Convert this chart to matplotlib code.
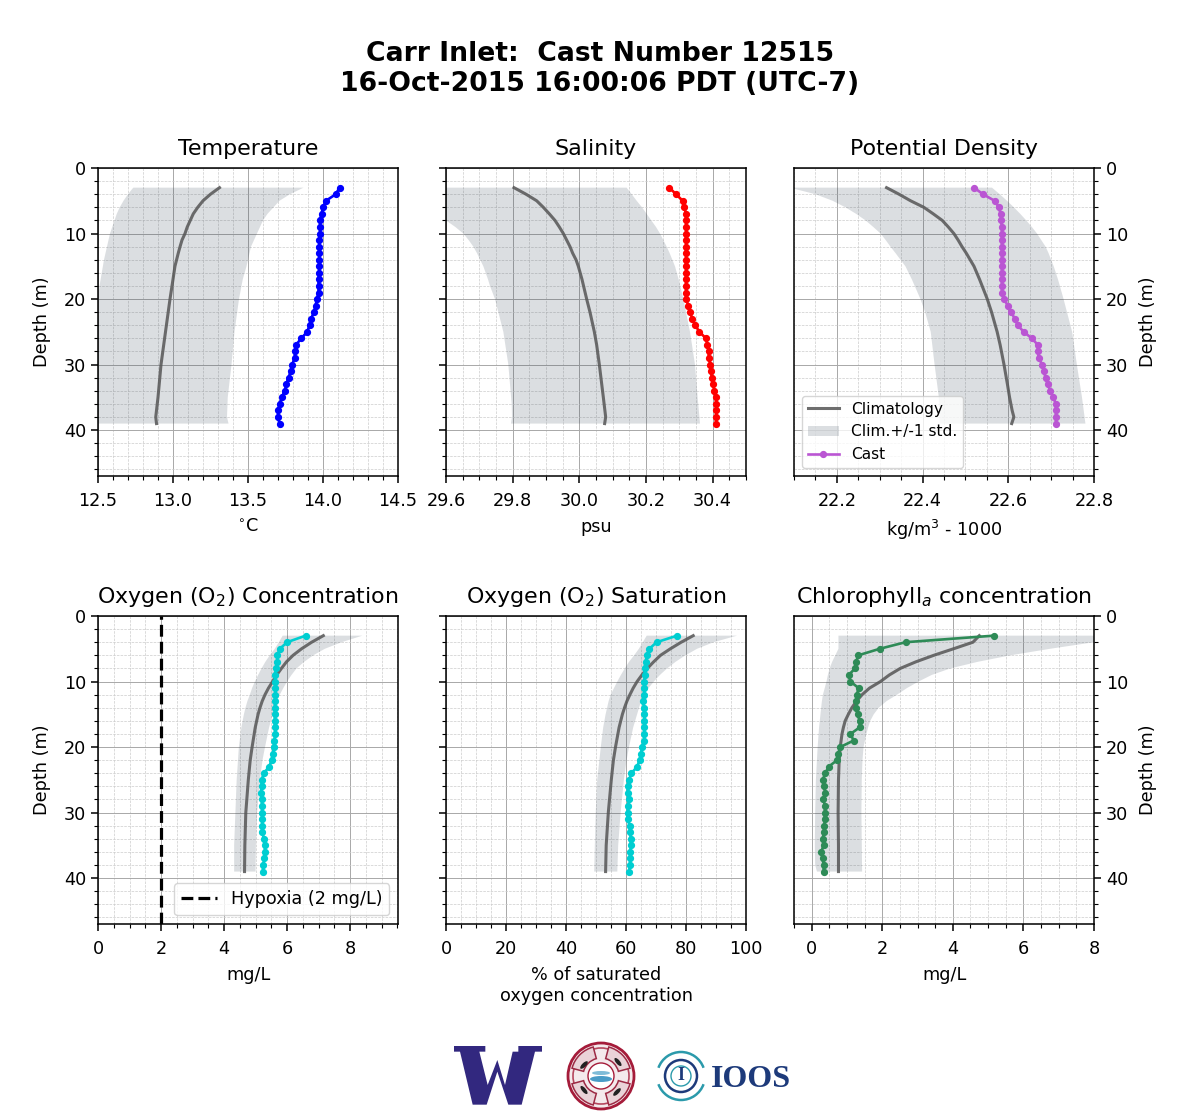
import matplotlib
matplotlib.use("Agg")
import matplotlib.pyplot as plt
from matplotlib.patches import Circle, Arc, Wedge, Ellipse, Polygon
from matplotlib.ticker import MultipleLocator, FormatStrFormatter

W, H = 1200, 1120
suptitle_text = "Carr Inlet:  Cast Number 12515\n16-Oct-2015 16:00:06 PDT (UTC-7)"
titles = ["Temperature", "Salinity", "Potential Density",
          "Oxygen (O$_2$) Concentration", "Oxygen (O$_2$) Saturation", "Chlorophyll$_a$ concentration"]
xlabels = ["$^{\\circ}$C", "psu", "kg/m$^3$ - 1000", "mg/L",
           "% of saturated\noxygen concentration", "mg/L"]
cast_colors = ["#0000ff", "#ff0000", "#ba55d3", "#00ced1", "#00ced1", "#2e8b57"]

cast_depth = list(range(3, 40))
temp_cast = [14.11, 14.085, 14.02, 14.0, 13.99, 13.98, 13.98, 13.98, 13.975, 13.975, 13.975, 13.975, 13.975,
             13.973, 13.97, 13.97, 13.97, 13.96, 13.95, 13.94, 13.92, 13.91, 13.895, 13.855, 13.82, 13.815,
             13.81, 13.795, 13.785, 13.77, 13.755, 13.745, 13.725, 13.71, 13.70, 13.70, 13.71]
sal_cast = [30.27, 30.29, 30.31, 30.315, 30.32, 30.32, 30.32, 30.32, 30.32, 30.32, 30.32, 30.32, 30.32,
            30.32, 30.32, 30.32, 30.32, 30.32, 30.327, 30.332, 30.339, 30.348, 30.36, 30.38, 30.384, 30.388,
            30.388, 30.393, 30.395, 30.397, 30.402, 30.405, 30.409, 30.411, 30.411, 30.41, 30.41]
dens_cast = [22.52, 22.541, 22.568, 22.578, 22.582, 22.583, 22.585, 22.585, 22.585, 22.585, 22.585, 22.585,
             22.585, 22.585, 22.585, 22.585, 22.585, 22.59, 22.599, 22.607, 22.615, 22.622, 22.636, 22.655,
             22.669, 22.669, 22.671, 22.679, 22.683, 22.687, 22.692, 22.698, 22.705, 22.711, 22.711, 22.711, 22.711]
oxc_cast = [6.59, 6.0, 5.77, 5.69, 5.69, 5.64, 5.62, 5.62, 5.63, 5.63, 5.62, 5.61, 5.61, 5.61, 5.62, 5.62,
            5.60, 5.58, 5.55, 5.51, 5.43, 5.26, 5.19, 5.19, 5.17, 5.2, 5.2, 5.21, 5.21, 5.21, 5.22, 5.26, 5.29,
            5.30, 5.28, 5.24, 5.23]
oxs_cast = [77.05, 70.2, 67.8, 66.9, 66.6, 66.2, 66.2, 66.1, 66.1, 66.0, 65.6, 66.0, 66.1, 66.1, 66.1, 66.0,
            66.0, 65.3, 65.0, 64.5, 63.7, 61.8, 61.0, 60.6, 60.6, 61.0, 60.6, 60.6, 60.6, 61.2, 61.3, 61.6,
            61.6, 61.4, 61.4, 61.3, 61.0]
chl_cast = [5.16, 2.66, 1.93, 1.32, 1.26, 1.23, 1.05, 1.1, 1.33, 1.28, 1.26, 1.26, 1.3, 1.36, 1.36, 1.1, 1.19,
            0.81, 0.75, 0.72, 0.48, 0.39, 0.31, 0.36, 0.38, 0.33, 0.38, 0.37, 0.37, 0.36, 0.35, 0.31, 0.34,
            0.27, 0.31, 0.34, 0.34]

temp_mean_z = [3, 4, 5, 6, 7, 8, 9, 10, 11, 12, 13, 15, 17, 20, 25, 30, 35, 38, 39]
temp_mean = [13.31, 13.25, 13.2, 13.165, 13.135, 13.115, 13.095, 13.08, 13.06, 13.047, 13.035, 13.013, 13.0,
             12.98, 12.95, 12.92, 12.9, 12.885, 12.89]
temp_low_z = [3, 4, 5, 6, 7, 8, 9, 10, 12, 14, 16, 18, 20, 25, 30, 35, 39]
temp_low = [12.735, 12.70, 12.67, 12.645, 12.625, 12.61, 12.595, 12.58, 12.56, 12.54, 12.525, 12.51, 12.5,
            12.47, 12.45, 12.43, 12.42]
temp_high_z = [3, 4, 5, 6, 7, 8, 9, 10, 11, 12, 13, 15, 17, 20, 25, 30, 35, 38, 39]
temp_high = [13.87, 13.78, 13.71, 13.67, 13.63, 13.6, 13.58, 13.56, 13.54, 13.52, 13.51, 13.49, 13.465, 13.44,
             13.41, 13.39, 13.365, 13.36, 13.37]

sal_mean_z = [3, 4, 5, 6, 7, 8, 9, 10, 11, 12, 13, 14, 15, 17, 20, 22, 25, 27, 30, 35, 38, 39]
sal_mean = [29.804, 29.84, 29.872, 29.892, 29.91, 29.927, 29.94, 29.952, 29.962, 29.972, 29.98, 29.99, 29.997,
            30.008, 30.022, 30.032, 30.045, 30.052, 30.06, 30.072, 30.079, 30.076]
sal_low_z = [3, 5, 7, 8, 9, 10, 11, 12, 13, 15, 17, 18, 20, 22, 25, 30, 36, 38, 39]
sal_low = [29.54, 29.56, 29.585, 29.6, 29.628, 29.652, 29.668, 29.682, 29.693, 29.712, 29.726, 29.732, 29.747,
           29.757, 29.772, 29.787, 29.797, 29.798, 29.795]
sal_high_z = [3, 4, 5, 6, 7, 8, 9, 10, 11, 12, 13, 15, 17, 20, 22, 25, 30, 35, 39]
sal_high = [30.142, 30.157, 30.172, 30.188, 30.202, 30.216, 30.23, 30.242, 30.252, 30.262, 30.271, 30.287,
            30.298, 30.312, 30.32, 30.332, 30.347, 30.355, 30.362]

dens_mean_z = [3, 4, 5, 6, 7, 8, 9, 10, 11, 12, 13, 15, 17, 20, 22, 25, 27, 30, 33, 35, 37, 38, 39]
dens_mean = [22.316, 22.345, 22.372, 22.403, 22.425, 22.446, 22.46, 22.473, 22.483, 22.492, 22.502, 22.52,
             22.533, 22.551, 22.561, 22.574, 22.581, 22.59, 22.598, 22.603, 22.609, 22.613, 22.608]
dens_low_z = [3, 4, 5, 6, 7, 8, 9, 10, 11, 12, 13, 15, 17, 20, 22, 25, 30, 35, 39]
dens_low = [22.09, 22.15, 22.19, 22.22, 22.245, 22.267, 22.285, 22.302, 22.314, 22.325, 22.337, 22.36, 22.375,
            22.395, 22.406, 22.419, 22.428, 22.438, 22.44]
dens_high_z = [3, 4, 5, 6, 7, 8, 9, 10, 11, 12, 13, 15, 17, 20, 25, 30, 35, 39]
dens_high = [22.562, 22.58, 22.597, 22.613, 22.628, 22.642, 22.655, 22.667, 22.677, 22.687, 22.694, 22.706,
             22.716, 22.729, 22.749, 22.76, 22.772, 22.78]

oxc_mean_z = [3, 4, 5, 6, 7, 8, 9, 10, 11, 12, 13, 14, 15, 17, 20, 22, 25, 30, 35, 39]
oxc_mean = [7.15, 6.78, 6.46, 6.19, 5.98, 5.82, 5.67, 5.54, 5.41, 5.3, 5.21, 5.14, 5.08, 4.99, 4.89, 4.83, 4.77,
            4.69, 4.66, 4.65]
oxc_low_z = [3, 4, 5, 6, 7, 8, 9, 10, 11, 12, 13, 14, 15, 17, 20, 25, 30, 35, 39]
oxc_low = [5.86, 5.74, 5.61, 5.45, 5.31, 5.19, 5.08, 4.98, 4.89, 4.82, 4.74, 4.68, 4.63, 4.55, 4.47, 4.4, 4.36,
           4.32, 4.32]
oxc_high_z = [3, 4, 5, 6, 7, 8, 9, 10, 11, 12, 13, 14, 15, 17, 20, 22, 25, 30, 35, 39]
oxc_high = [8.39, 7.73, 7.2, 6.83, 6.54, 6.3, 6.14, 6.0, 5.88, 5.77, 5.68, 5.6, 5.54, 5.43, 5.3, 5.22, 5.14, 5.05,
            5.01, 5.0]

oxs_mean_z = [3, 4, 5, 6, 7, 8, 9, 10, 11, 12, 13, 14, 15, 17, 20, 22, 25, 30, 35, 39]
oxs_mean = [82.4, 78.4, 74.8, 71.5, 69.2, 67.1, 65.3, 63.7, 62.4, 61.3, 60.3, 59.5, 58.8, 57.7, 56.5, 55.8, 55.1,
            54.1, 53.4, 53.2]
oxs_low_z = [3, 4, 5, 6, 7, 8, 9, 10, 11, 12, 13, 15, 17, 20, 25, 30, 35, 39]
oxs_low = [66.9, 65.6, 64.3, 62.7, 61.0, 59.6, 58.3, 57.1, 56.0, 54.9, 54.2, 53.2, 52.4, 51.6, 50.4, 49.9, 49.6,
           49.4]
oxs_high_z = [3, 4, 5, 6, 7, 8, 9, 10, 11, 12, 13, 15, 17, 20, 22, 25, 30, 35, 39]
oxs_high = [97.0, 89.2, 83.7, 79.8, 76.5, 73.7, 71.3, 69.3, 67.5, 66.0, 65.0, 63.7, 62.4, 61.0, 60.2, 59.3, 58.2,
            57.4, 57.1]

chl_mean_z = [3, 4, 5, 6, 7, 8, 9, 10, 11, 12, 13, 14, 15, 16, 17, 18, 20, 22, 25, 30, 35, 39]
chl_mean = [4.75, 4.57, 4.02, 3.46, 2.95, 2.51, 2.2, 1.95, 1.64, 1.43, 1.27, 1.14, 1.04, 0.95, 0.9, 0.86, 0.81,
            0.78, 0.76, 0.75, 0.76, 0.76]
chl_low_z = [3, 5, 6, 7, 8, 9, 10, 11, 12, 13, 15, 17, 20, 25, 30, 35, 38, 39]
chl_low = [0.76, 0.76, 0.67, 0.58, 0.51, 0.46, 0.42, 0.37, 0.32, 0.29, 0.25, 0.21, 0.17, 0.12, 0.1, 0.09, 0.1, 0.15]
chl_high_z = [3, 4, 5, 6, 7, 8, 9, 10, 11, 12, 13, 14, 15, 16, 17, 18, 20, 22, 25, 30, 39]
chl_high = [8.3, 8.0, 6.76, 5.63, 4.7, 3.93, 3.4, 3.03, 2.7, 2.42, 2.12, 1.9, 1.76, 1.66, 1.6, 1.55, 1.47, 1.44,
            1.42, 1.41, 1.43]

hypoxia_level = 2

casts = [temp_cast, sal_cast, dens_cast, oxc_cast, oxs_cast, chl_cast]
means = [(temp_mean_z, temp_mean), (sal_mean_z, sal_mean), (dens_mean_z, dens_mean),
         (oxc_mean_z, oxc_mean), (oxs_mean_z, oxs_mean), (chl_mean_z, chl_mean)]
lows = [(temp_low_z, temp_low), (sal_low_z, sal_low), (dens_low_z, dens_low),
        (oxc_low_z, oxc_low), (oxs_low_z, oxs_low), (chl_low_z, chl_low)]
highs = [(temp_high_z, temp_high), (sal_high_z, sal_high), (dens_high_z, dens_high),
         (oxc_high_z, oxc_high), (oxs_high_z, oxs_high), (chl_high_z, chl_high)]

xlims = [(12.5, 14.5), (29.6, 30.5), (22.1, 22.8), (0, 9.52), (0, 100), (-0.5, 8)]
xmajor = [0.5, 0.2, 0.2, 2, 20, 2]
xminor = [0.1, 0.05, 0.05, 0.5, 5, 0.5]
xfmt = ["%.1f", "%.1f", "%.1f", "%d", "%d", "%d"]
lefts = [98, 446, 794]
tops = [168, 616]
ax_w, ax_h = 300, 308
FS = 12.7


def fill_between_depths(ax, low, high):
    xs = list(low[1]) + list(high[1])[::-1]
    ys = list(low[0]) + list(high[0])[::-1]
    return ax.fill(xs, ys, color="#2c3e50", alpha=0.17, lw=0, zorder=2, label="Clim.+/-1 std.")[0]


fig = plt.figure(figsize=(W / 100, H / 100), dpi=100, facecolor="white")
fig.text(0.5, 1 - 69 / H, suptitle_text, ha="center", va="center", fontsize=19.2,
         fontweight="bold", linespacing=1.2)

for i in range(6):
    row, col = divmod(i, 3)
    ax = fig.add_axes([lefts[col] / W, 1 - (tops[row] + ax_h) / H, ax_w / W, ax_h / H])
    fill = fill_between_depths(ax, lows[i], highs[i])
    line_m, = ax.plot(means[i][1], means[i][0], color="#555555", alpha=0.85, lw=2.2, zorder=3,
                      label="Climatology")
    line_c, = ax.plot(casts[i], cast_depth, color=cast_colors[i], lw=1.9, marker="o", ms=4.2,
                      zorder=4, label="Cast")
    ax.set_xlim(*xlims[i])
    ax.set_ylim(47, 0)
    ax.xaxis.set_major_locator(MultipleLocator(xmajor[i]))
    ax.xaxis.set_minor_locator(MultipleLocator(xminor[i]))
    ax.xaxis.set_major_formatter(FormatStrFormatter(xfmt[i]))
    ax.yaxis.set_major_locator(MultipleLocator(10))
    ax.yaxis.set_minor_locator(MultipleLocator(2))
    ax.grid(which="major", color="#a8a8a8", lw=0.7, zorder=0)
    ax.grid(which="minor", color="#cccccc", lw=0.5, ls="--", zorder=0)
    ax.set_axisbelow(True)
    for s in ax.spines.values():
        s.set_linewidth(1.1)
    ax.tick_params(which="major", length=5, width=1.1, labelsize=FS)
    ax.tick_params(axis="x", which="major", pad=6.3)
    ax.tick_params(which="minor", length=3, width=0.8)
    ax.set_title(titles[i], fontsize=15.9, pad=9.5)
    ax.set_xlabel(xlabels[i], fontsize=FS, labelpad=6)
    if col == 0:
        ax.set_ylabel("Depth (m)", fontsize=FS, labelpad=9)
    elif col == 1:
        ax.tick_params(axis="y", labelleft=False)
    else:
        ax.yaxis.tick_right()
        ax.yaxis.set_label_position("right")
        ax.set_ylabel("Depth (m)", fontsize=FS, labelpad=8)
    if i == 2:
        ax.legend(handles=[line_m, fill, line_c], loc="lower left", fontsize=11.1, borderaxespad=0.5,
                  labelspacing=0.5, framealpha=0.8)
    if i == 3:
        h = ax.axvline(hypoxia_level, color="black", ls="--", lw=2.3, zorder=3, label="Hypoxia (2 mg/L)")
        ax.legend(handles=[h], loc="lower right", fontsize=FS, framealpha=0.8, borderaxespad=0.5)

# Logos rebuilt from shapes and text, in pixel coordinates
lg = fig.add_axes([0, 0, 1, 1], zorder=10)
lg.set_xlim(0, W)
lg.set_ylim(H, 0)
lg.axis("off")
lg.patch.set_alpha(0)
uw_outline = [(42, 48), (136, 48), (136, 65), (118, 65), (143, 165), (172, 90), (195, 165), (218, 65),
              (235, 65), (235, 48), (306, 48), (306, 65), (285, 65), (245, 224), (205, 224), (172, 125),
              (140, 224), (98, 224), (60, 65), (42, 65)]
lg.add_patch(Polygon([(440 + x / 3, 1030 + y / 3) for x, y in uw_outline], fc="#32287f", ec="none"))
lg.add_patch(Circle((601, 1076), 33, fc="#f4eaec", ec="#a51c3a", lw=2.0))
lg.add_patch(Circle((601, 1076), 28, fc="none", ec="#b5475e", lw=1.2))
for a in (45, 135, 225, 315):
    lg.add_patch(Wedge((601, 1076), 30, a - 30, a + 30, width=12, fc="#ead3d8", ec="#9c2a44", lw=1.1))
for ang, cx, cy in ((50, 618, 1062), (-45, 584, 1065), (-45, 617, 1092), (50, 584, 1090)):
    lg.add_patch(Ellipse((cx, cy), 10, 4, angle=ang, fc="#222222", ec="none"))
lg.add_patch(Circle((601, 1076), 13, fc="#ffffff", ec="#a51c3a", lw=1))
lg.add_patch(Ellipse((601, 1079), 22, 6, fc="#4a9cc7", ec="none"))
lg.add_patch(Ellipse((601, 1073), 18, 4, fc="#7fbcd8", ec="none"))
lg.add_patch(Arc((681, 1076), 48, 48, theta1=20, theta2=160, color="#2b9aab", lw=1.8))
lg.add_patch(Arc((681, 1076), 48, 48, theta1=200, theta2=340, color="#2b9aab", lw=1.8))
lg.add_patch(Circle((681, 1076), 16, fc="white", ec="#1d3a7a", lw=1.8))
lg.add_patch(Circle((681, 1076), 10, fc="white", ec="#2b9aab", lw=1.0))
lg.text(681, 1076, "I", family="Liberation Serif", fontweight="bold", fontsize=13, color="#1d3a7a",
        ha="center", va="center")
lg.text(711, 1087, "IOOS", family="Liberation Serif", fontweight="bold", fontsize=23, color="#1d3a7a",
        ha="left", va="baseline")

fig.savefig("out.png", dpi=100)
